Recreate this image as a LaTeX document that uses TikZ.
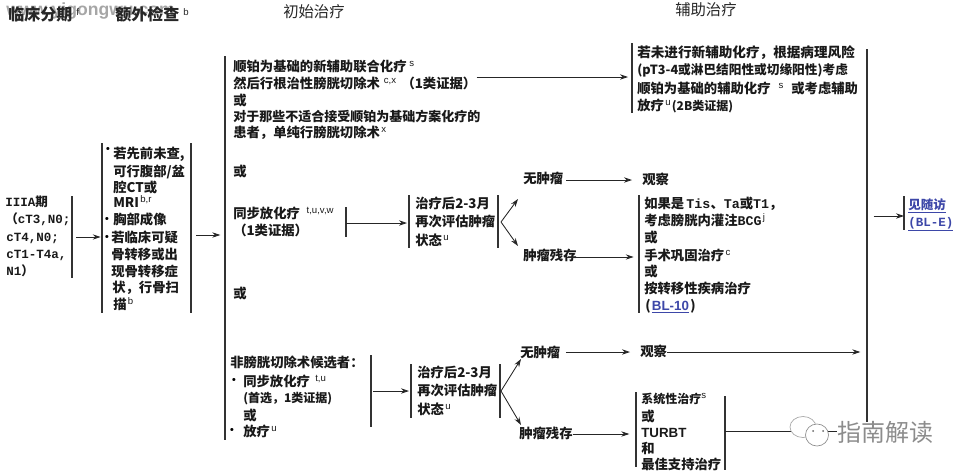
\documentclass[tikz,border=0pt]{standalone}
\usepackage{fontspec}
\usetikzlibrary{arrows.meta}
\setmainfont{Liberation Sans}
\newfontfamily\cjk{Noto Sans CJK SC}
\newfontfamily\lat{Liberation Sans}
\newfontfamily\mon{Liberation Mono}
\definecolor{linkblue}{HTML}{3D47A8}
\definecolor{barc}{HTML}{333333}
\newcommand\su[1]{{\lat\mdseries\fontsize{7.2}{8}\selectfont\raisebox{3.2pt}{#1}}}
\newcommand\vb[4]{\coordinate (#1) at (#2,#3); \coordinate (#1e) at (#2,#4); \draw[barline] (#1) -- (#1e);}
\tikzset{
  barline/.style={draw=barc,line width=0.8pt},
  arr/.style={draw=black!85,line width=0.65pt,-{Stealth[length=6pt,width=4pt]}},
  plainline/.style={draw=black!85,line width=0.65pt},
  txt/.style={anchor=west,inner sep=0pt,text height=8pt,text depth=2pt,font=\cjk\bfseries\fontsize{10}{12}\selectfont,text=black!90},
  monotxt/.style={txt,font=\mon\bfseries\fontsize{9.4}{12}\selectfont},
  headtxt/.style={txt,font=\cjk\fontsize{11.5}{13}\selectfont,text=black!85},
  bulletmk/.style={anchor=center,inner sep=0pt,font=\lat\bfseries\fontsize{8}{8}\selectfont},
}
\begin{document}
\begin{tikzpicture}[x=0.75pt,y=-0.75pt]
\useasboundingbox (0,0) rectangle (963,475);
% headers
\node[anchor=west,inner sep=0pt,text=black!35,font=\lat\bfseries\fontsize{13.2}{14}\selectfont] (wm) at (6,11) {www.yigongwu.com};
\node[headtxt,font=\cjk\bfseries\fontsize{12}{13}\selectfont] (h1) at (8,16) {临床分期\hspace{3pt}\su{f}};
\node[headtxt,font=\cjk\bfseries\fontsize{12}{13}\selectfont] (h2) at (115,16) {额外检查\hspace{3pt}\su{b}};
\node[headtxt] (h3) at (283,13) {初始治疗};
\node[headtxt] (h4) at (675,11) {辅助治疗};
% stage
\node[monotxt] (s1) at (5,202) {IIIA{\cjk\bfseries 期}};
\node[monotxt] (s2) at (5,219) {{\cjk （}cT3,N0;};
\node[monotxt] (s3) at (6,237) {cT4,N0;};
\node[monotxt] (s4) at (6,254) {cT1-T4a,};
\node[monotxt] (s5) at (6,271) {N1{\cjk\bfseries ）}};
\vb{b1}{72}{196}{278}
\vb{b2}{102}{143}{313}
\vb{b3}{191}{143}{313}
% work-up
\node[bulletmk] (d1) at (108,150) {•};
\node[txt] (w1) at (113,154) {若先前未查,};
\node[txt] (w2) at (113,172) {可行腹部/盆};
\node[txt] (w3) at (113,188) {腔CT或};
\node[txt] (w4) at (113,203) {MRI\hspace{1pt}\su{b,r}};
\node[bulletmk] (d2) at (107,220) {•};
\node[txt] (w5) at (113,220) {胸部成像};
\node[bulletmk] (d3) at (107,238) {•};
\node[txt] (w6) at (111,238) {若临床可疑};
\node[txt] (w7) at (111,255) {骨转移或出};
\node[txt] (w8) at (111,272) {现骨转移症};
\node[txt] (w9) at (112,288) {状，行骨扫};
\node[txt] (w10) at (113,305) {描\hspace{1pt}\su{b}};
\coordinate (l1) at (0,237);
\draw[arr,shorten <=3pt,shorten >=1pt] (b1 |- l1) -- (b2 |- l1);
\coordinate (l2) at (0,235);
\coordinate (x2) at (225,0);
\draw[arr,shorten <=4pt,shorten >=3.5pt] (b3 |- l2) -- (x2 |- l2);
\vb{b4}{225}{56}{440}
% primary
\node[txt] (p1) at (233,67) {顺铂为基础的新辅助联合化疗\hspace{2pt}\su{s}};
\node[txt] (p2) at (233,84) {然后行根治性膀胱切除术\hspace{3pt}\su{c,x}\hspace{4pt}（1类证据）};
\node[txt] (p3) at (233,101) {或};
\node[txt,font=\cjk\bfseries\fontsize{9.75}{12}\selectfont] (p4) at (233,117) {对于那些不适合接受顺铂为基础方案化疗的};
\node[txt] (p5) at (233,133) {患者，单纯行膀胱切除术\hspace{1pt}\su{x}};
\node[txt] (p6) at (233,172) {或};
\node[txt] (p7) at (233,214) {同步放化疗\hspace{5pt}\su{t,u,v,w}};
\node[txt] (p8) at (233,231) {（1类证据）};
\node[txt] (p9) at (233,294) {或};
\node[txt] (q1) at (230,363) {非膀胱切除术候选者：};
\node[bulletmk] (d4) at (234,381) {•};
\node[txt] (q2) at (243,382) {同步放化疗\hspace{4pt}\su{t,u}};
\node[txt,font=\cjk\bfseries\fontsize{9}{11}\selectfont] (q3) at (243,398) {(首选，1类证据)};
\node[txt] (q4) at (243,416) {或};
\node[bulletmk] (d5) at (232,431) {•};
\node[txt] (q5) at (243,432) {放疗\hspace{1pt}\su{u}};
% adjuvant top
\coordinate (c1) at (0,77);
\vb{b5}{632}{43}{113}
\node[txt,font=\cjk\bfseries\fontsize{10.2}{12}\selectfont] (a1) at (637,53) {若未进行新辅助化疗，根据病理风险};
\node[txt,font=\cjk\bfseries\fontsize{9.5}{12}\selectfont] (a2) at (637,70) {(pT3-4或淋巴结阳性或切缘阳性)考虑};
\node[txt] (a3) at (637,89) {顺铂为基础的辅助化疗\hspace{6pt}\su{s}\hspace{6pt}或考虑辅助};
\node[txt] (a4) at (637,106) {放疗\hspace{1pt}\su{u}\hspace{1pt}{\fontsize{9}{11}\selectfont (2B类证据)}};
\draw[plainline,-{Stealth[length=6pt,width=4pt]},shorten >=3pt] (p2.east |- c1) -- (b5 |- c1);
% middle row 1
\vb{b6}{346}{207}{237}
\vb{b7}{409}{195}{248}
\vb{b8}{498}{195}{248}
\coordinate (c2) at (0,223);
\draw[arr,shorten >=1.5pt] (b6 |- c2) -- (b7 |- c2);
\node[txt] (r1) at (415,204) {治疗后2-3月};
\node[txt] (r2) at (415,222) {再次评估肿瘤};
\node[txt] (r3) at (415,241) {状态\hspace{1pt}\su{u}};
\coordinate (ap1) at (501,222);
\coordinate (up1) at (518,199);
\coordinate (dn1) at (518,246);
\draw[arr] (ap1) -- (up1);
\draw[arr] (ap1) -- (dn1);
\node[txt] (n1) at (523,179) {无肿瘤};
\node[txt] (o1) at (642,180) {观察};
\draw[arr,shorten <=2pt,shorten >=7.5pt] (n1.east |- o1.west) -- (o1.west);
\node[txt] (c1t) at (523,256) {肿瘤残存};
\vb{b9}{639}{195}{313}
\coordinate (c3) at (0,257);
\coordinate (c3s) at (567,257);
\draw[arr,shorten >=4pt] (c3s) -- (b9 |- c3);
\node[txt] (t1) at (644,204) {如果是\,{\mon Tis}、{\mon Ta}或{\mon T1}，};
\node[txt] (t2) at (644,221) {考虑膀胱内灌注{\mon BCG}\hspace{1pt}\su{j}};
\node[txt] (t3) at (644,238) {或};
\node[txt] (t4) at (644,256) {手术巩固治疗\hspace{1pt}\su{c}};
\node[txt] (t5) at (644,272) {或};
\node[txt] (t6) at (644,289) {按转移性疾病治疗};
\node[txt] (t7) at (645,306) {(\hspace{1pt}{\lat\color{linkblue}\underline{BL-10}}\hspace{1pt})};
% right column
\vb{b10}{867}{49}{422}
\coordinate (c4) at (0,216);
\vb{b11}{904}{196}{230}
\draw[arr,shorten <=5pt] (b10 |- c4) -- (b11 |- c4);
\node[monotxt,text=linkblue] (f1) at (908,205) {\underline{\cjk\bfseries 见随访}};
\node[monotxt,text=linkblue] (f2) at (908,222) {\underline{(BL-E)}};
% middle row 2
\vb{b12}{371}{355}{427}
\vb{b13}{411}{364}{418}
\vb{b14}{500}{364}{418}
\coordinate (c5) at (0,391);
\draw[arr,shorten <=1.5pt,shorten >=1.5pt] (b12 |- c5) -- (b13 |- c5);
\node[txt] (r4) at (417,373) {治疗后2-3月};
\node[txt] (r5) at (417,391) {再次评估肿瘤};
\node[txt] (r6) at (417,410) {状态\hspace{1pt}\su{u}};
\coordinate (ap2) at (501,391);
\coordinate (up2) at (521,359);
\coordinate (dn2) at (521,425);
\draw[arr] (ap2) -- (up2);
\draw[arr] (ap2) -- (dn2);
\node[txt] (n2) at (520,353) {无肿瘤};
\node[txt] (o2) at (640,352) {观察};
\draw[arr,shorten <=4pt,shorten >=7.5pt] (n2.east |- o2.west) -- (o2.west);
\coordinate (c6) at (0,352);
\draw[arr,shorten >=5pt] (o2.east |- c6) -- (b10 |- c6);
\node[txt] (c2t) at (519,434) {肿瘤残存};
\vb{b15}{636}{392}{467}
\vb{b16}{725}{396}{470}
\coordinate (c7) at (0,434);
\draw[arr,shorten >=5pt] (c2t.east |- c7) -- (b15 |- c7);
\node[txt,font=\cjk\bfseries\fontsize{9}{11}\selectfont] (u1) at (641,399) {系统性治疗\su{s}};
\node[txt] (u2) at (641,417) {或};
\node[txt,font=\lat\bfseries\fontsize{10}{12}\selectfont] (u3) at (641,433) {TURBT};
\node[txt] (u4) at (641,449) {和};
\node[txt] (u5) at (641,465) {最佳支持治疗};
\coordinate (wx) at (837,431);
\draw[plainline] (b16 |- wx) -- (wx);
% logo
\draw[black!35,line width=0.5pt,fill=white] (803,427) ellipse (13 and 10.5);
\draw[black!45,line width=0.5pt,fill=white] (817,435) ellipse (11.5 and 11);
\fill[black!60] (813,431) circle (1); \fill[black!60] (823,431) circle (1);
\node[anchor=west,inner sep=0pt,font=\cjk\fontsize{18}{20}\selectfont,text=black!45] (logo) at (837,432) {指南解读};
\end{tikzpicture}
\end{document}
